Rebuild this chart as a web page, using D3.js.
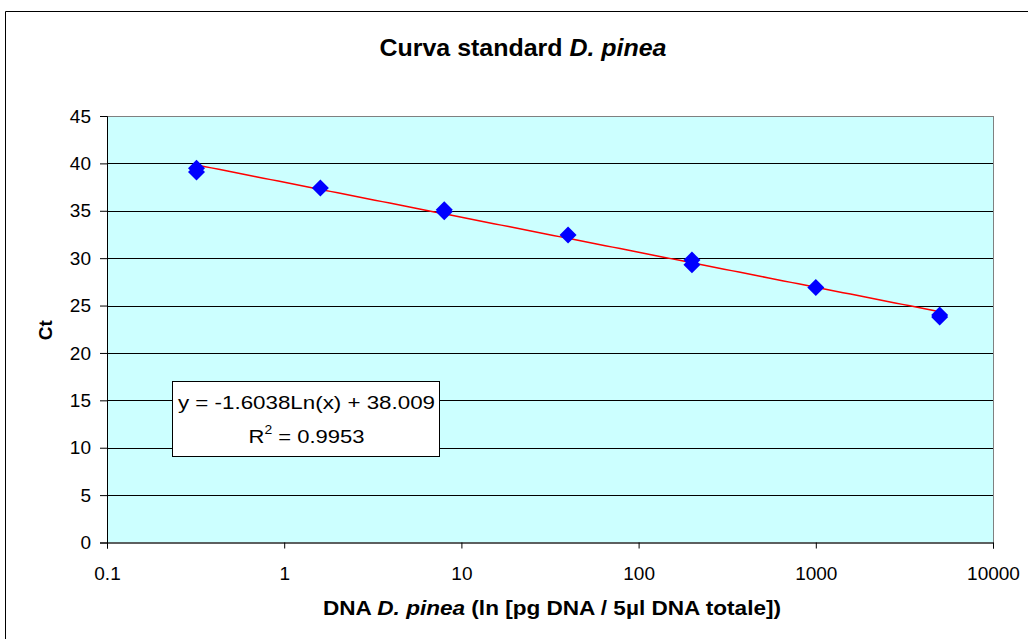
<!DOCTYPE html>
<html>
  <head>
    <title>Curva standard</title>
    <script src="https://cdn.jsdelivr.net/npm/d3@7"></script>
    <style>
      body { margin: 0; background: #fff; }
      text { font-family: "Liberation Sans", Arial, sans-serif; }
    </style>
  </head>
  <body>
    <svg width="1028" height="639" id="mainsvg"></svg>
    <script>
      const svg = d3.select('#mainsvg');
      const margin = {top: 116, left: 107};
      const innerWidth = 993 - margin.left;
      const innerHeight = 542.5 - margin.top;

      // data
      const dnaAmount = [0.32, 0.32, 1.6, 8, 8, 40, 200, 200, 1000, 5000, 5000];
      const ctValues = [39.5, 39.1, 37.4, 35.1, 34.9, 32.45, 29.8, 29.3, 26.9, 24.0, 23.8];
      const xTicks = [0.1, 1, 10, 100, 1000, 10000];
      const yTicks = [0, 5, 10, 15, 20, 25, 30, 35, 40, 45];
      const slope = -1.6038, intercept = 38.009, r2 = 0.9953;

      const points = dnaAmount.map((d, i) => ({x: d, y: ctValues[i]}));

      // outer chart frame: only left and top edges fall inside the picture
      svg.append('path')
        .attr('d', 'M5.5,639V11.5H1028')
        .attr('fill', 'none').attr('stroke', '#000');

      const title = svg.append('text')
        .attr('x', 523).attr('y', 56)
        .attr('text-anchor', 'middle')
        .attr('font-size', 24).attr('font-weight', 'bold')
        .attr('textLength', 287).attr('lengthAdjust', 'spacingAndGlyphs');
      title.append('tspan').text('Curva standard ');
      title.append('tspan').attr('font-style', 'italic').text('D. pinea');

      const g = svg.append('g')
        .attr('transform', `translate(${margin.left}, ${margin.top})`);

      const xScale = d3.scaleLog().domain([0.1, 10000]).range([0, innerWidth]);
      const yScale = d3.scaleLinear().domain([0, 45]).range([innerHeight, 0]);

      g.append('rect')
        .attr('width', innerWidth).attr('height', innerHeight)
        .attr('fill', '#ccffff');

      // gridlines
      g.selectAll('.grid').data(yTicks.filter(d => d > 0 && d < 45))
        .join('line')
        .attr('class', 'grid')
        .attr('x1', 0).attr('x2', innerWidth)
        .attr('y1', d => Math.round(yScale(d)) + 0.5)
        .attr('y2', d => Math.round(yScale(d)) + 0.5)
        .attr('stroke', '#000').attr('stroke-width', 1);

      g.append('rect')
        .attr('x', 0.5).attr('y', 0.5)
        .attr('width', innerWidth).attr('height', innerHeight)
        .attr('fill', 'none').attr('stroke', '#808080');

      const yAxis = d3.axisLeft(yScale).tickValues(yTicks).tickSize(7).tickPadding(9);
      const yAxisGroup = g.append('g').call(yAxis);
      const xAxis = d3.axisBottom(xScale).tickValues(xTicks).tickSize(6).tickPadding(18)
        .tickFormat(d => d < 1 ? '0.1' : d3.format('d')(d));
      const xAxisGroup = g.append('g').attr('transform', `translate(0, ${innerHeight})`).call(xAxis);
      [yAxisGroup, xAxisGroup].forEach(ax => {
        ax.attr('font-size', 19).attr('font-family', '"Liberation Sans", Arial, sans-serif');
        ax.selectAll('text').attr('fill', '#000');
        ax.selectAll('line, .domain').attr('stroke', '#000');
      });
      yAxisGroup.select('.domain').attr('d', `M-7,${innerHeight + 0.5}H0.5V0.5H-7`);
      xAxisGroup.select('.domain').attr('d', `M0.5,6V0.5H${innerWidth + 0.5}V6`);

      // trendline from the displayed fit
      const xs = d3.extent(dnaAmount);
      const trend = d3.range(0, 101).map(i => {
        const x = Math.exp(Math.log(xs[0]) + (Math.log(xs[1]) - Math.log(xs[0])) * i / 100);
        return {x, y: slope * Math.log(x) + intercept};
      });
      g.append('path').datum(trend)
        .attr('d', d3.line().x(d => xScale(d.x)).y(d => yScale(d.y)))
        .attr('fill', 'none').attr('stroke', '#ff0000').attr('stroke-width', 1.5);

      g.selectAll('.pt').data(points).join('path')
        .attr('class', 'pt')
        .attr('transform', d => `translate(${xScale(d.x)}, ${yScale(d.y)})`)
        .attr('d', 'M0,-8.5L8.5,0L0,8.5L-8.5,0Z')
        .attr('fill', '#0000ff');

      // equation box
      const box = svg.append('g').attr('transform', 'translate(172, 381)');
      box.append('rect').attr('x', 0.5).attr('y', 0.5).attr('width', 267).attr('height', 75)
        .attr('fill', '#fff').attr('stroke', '#000');
      box.append('text').attr('x', 134.5).attr('y', 28).attr('text-anchor', 'middle')
        .attr('font-size', 19)
        .attr('textLength', 257).attr('lengthAdjust', 'spacingAndGlyphs')
        .text(`y = ${slope}Ln(x) + ${intercept}`);
      const r2Text = box.append('text').attr('x', 134.5).attr('y', 62).attr('text-anchor', 'middle')
        .attr('font-size', 19)
        .attr('textLength', 116).attr('lengthAdjust', 'spacingAndGlyphs');
      r2Text.append('tspan').text('R');
      r2Text.append('tspan').attr('dy', -9).attr('font-size', 12).text('2');
      r2Text.append('tspan').attr('dy', 9).text(` = ${r2}`);

      svg.append('text')
        .attr('transform', `translate(52, ${margin.top + innerHeight / 2 + 1}) rotate(-90)`)
        .attr('text-anchor', 'middle')
        .attr('font-size', 19).attr('font-weight', 'bold')
        .text('Ct');

      const xl = svg.append('text')
        .attr('x', 552).attr('y', 615)
        .attr('text-anchor', 'middle')
        .attr('font-size', 20).attr('font-weight', 'bold')
        .attr('textLength', 458).attr('lengthAdjust', 'spacingAndGlyphs');
      xl.append('tspan').text('DNA ');
      xl.append('tspan').attr('font-style', 'italic').text('D. pinea');
      xl.append('tspan').text(' (ln [pg DNA / 5µl DNA totale])');
    </script>
  </body>
</html>
